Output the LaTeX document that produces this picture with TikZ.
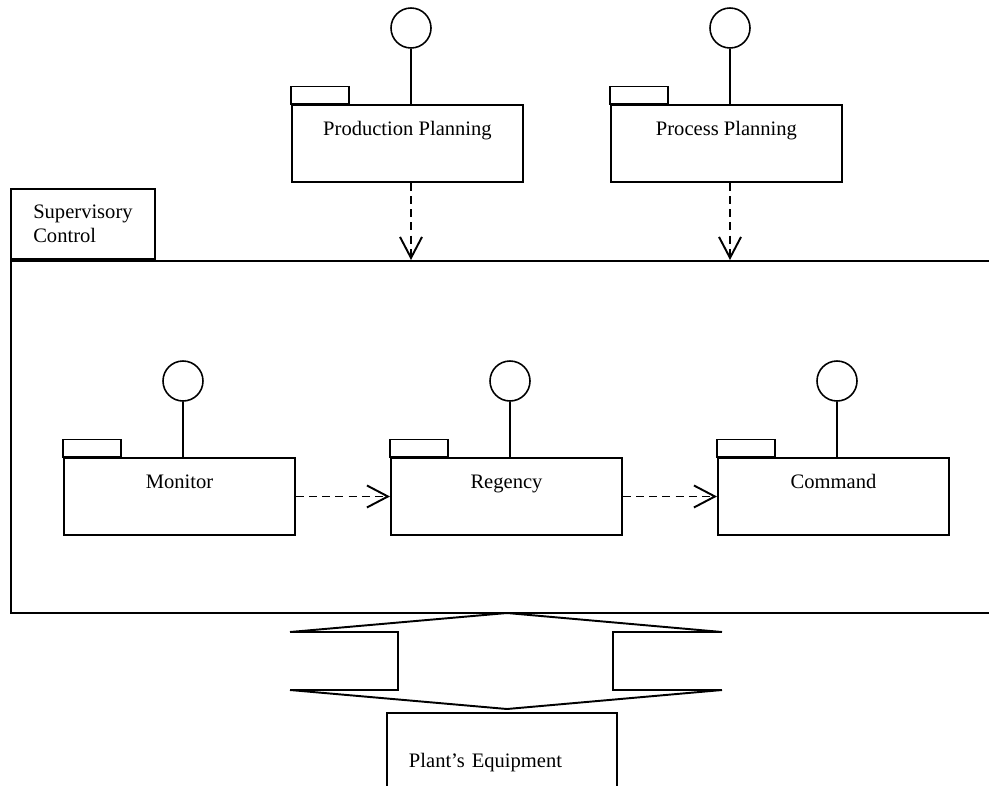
\documentclass[tikz,border=0pt]{standalone}
\usepackage{fontspec}
\setmainfont{Liberation Serif}
\usetikzlibrary{arrows.meta}

\begin{document}
\begin{tikzpicture}[
  every node/.style={font=\fontsize{11.7}{13.7}\selectfont},
  pkg/.style={draw,line width=1.1pt,inner sep=0pt,anchor=north west,
    minimum width=4.62cm,text height=0.62cm,text depth=0.92cm},
  iface/.style={draw,circle,line width=0.9pt,minimum size=0.8cm,inner sep=0pt},
  dep/.style={line width=1.1pt,dash pattern=on 4.5pt off 3pt,
    -{Straight Barb[length=0.42cm,width=0.44cm]}}
]
\useasboundingbox (0,0) rectangle (19.78,-15.7);

% supervisory control package
\node[draw,line width=1.1pt,anchor=north west,inner sep=0pt,
  minimum width=19.9cm,minimum height=7.04cm] (sup) at (0.2,-5.2) {};
\node[draw,line width=1.1pt,anchor=south west,inner sep=0pt,align=left,
  minimum width=2.88cm,minimum height=1.4cm] (suptab) at (sup.north west)
  {Supervisory\\Control};

% packages
\node[pkg] (prod) at (5.82,-2.08) {Production Planning};
\node[pkg] (proc) at (12.2,-2.08) {Process Planning};
\node[pkg] (mon) at (1.26,-9.14) {Monitor};
\node[pkg] (reg) at (7.8,-9.14) {Regency};
\node[pkg] (cmd) at (14.34,-9.14) {Command};

\foreach \p in {prod,proc,mon,reg,cmd}{
  \draw[line width=1.1pt] (\p.north west) rectangle ++(1.16,0.35);
  \node[iface] (\p I) at ([xshift=2.4cm,yshift=1.52cm]\p.north west) {};
  \draw[line width=0.9pt] (\p I) -- (\p I |- \p.north);
}

% dependencies
\draw[dep] (prodI |- prod.south) -- (prodI |- sup.north);
\draw[dep] (procI |- proc.south) -- (procI |- sup.north);
\draw[dep] (mon) -- (reg);
\draw[dep] (reg) -- (cmd);

% plant
\node[draw,line width=1.1pt,anchor=north west,inner xsep=0.44cm,inner ysep=0pt,
  text width=3.72cm,align=left,text height=1.1cm,text depth=0.9cm]
  (plant) at (7.72,-14.24) {Plant's Equipment};

% two-way interface
\coordinate (upT) at (10.14,-12.26);
\coordinate (dnT) at (10.14,-14.18);
\draw[line width=1.1pt] (5.8,-12.64) -- (upT) -- (14.44,-12.64);
\draw[line width=1.1pt] (5.8,-13.8) -- (dnT) -- (14.44,-13.8);
\draw[line width=1.1pt] (5.8,-12.64) -- (7.96,-12.64) -- (7.96,-13.8) -- (5.8,-13.8);
\draw[line width=1.1pt] (14.44,-12.64) -- (12.26,-12.64) -- (12.26,-13.8) -- (14.44,-13.8);
\end{tikzpicture}
\end{document}
